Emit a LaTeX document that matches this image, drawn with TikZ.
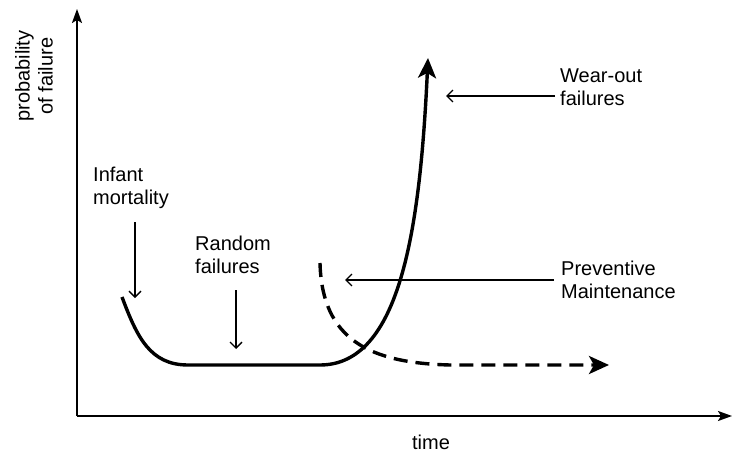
\documentclass[tikz,border=0pt]{standalone}
\usepackage{fontspec}
\setmainfont{Liberation Sans}
\usetikzlibrary{arrows.meta}
\begin{document}
\begin{tikzpicture}[x=1pt,y=-1pt,
  lbl/.style={inner sep=0pt,align=left,font=\fontsize{20}{23}\selectfont},
  axis/.style={line width=1.8pt,-{Stealth[length=14pt,width=10pt,inset=3pt]}},
  curve/.style={line width=3.4pt,-{Stealth[length=20pt,width=18pt,inset=5pt]}},
  pointer/.style={line width=1.4pt,-{Straight Barb[length=6pt,width=12pt]}}]
\useasboundingbox (0,0) rectangle (732,452);
% axes
\coordinate (O) at (77,416);
\coordinate (ytop) at (77,9);
\coordinate (xend) at (732,416);
\draw[axis] (O) -- (ytop);
\draw[axis] (O) -- (xend);
\node[lbl,align=center,rotate=90] (ylab) at (34,76) {probability\\of failure};
\node[lbl,anchor=base] (xlab) at (431,449) {time};
% bathtub curve
\coordinate (c0) at (122,297);
\coordinate (c1) at (188,365);
\coordinate (c2) at (320,365);
\coordinate (c3) at (428,58);
\draw[curve] (c0) .. controls (137,337) and (150,365) .. (c1) -- (c2)
  .. controls (400,365) and (420,230) .. (c3);
% preventive maintenance curve
\coordinate (d0) at (320,263);
\coordinate (d1) at (450,365);
\coordinate (d2) at (609,365);
\draw[curve,dash pattern=on 14pt off 8pt] (d0) .. controls (322,340) and (370,363) .. (d1) -- (d2);
% labels
\node[lbl,anchor=north west] (infant) at (93,167) {Infant\\mortality};
\node[lbl,anchor=north west] (random) at (195,236) {Random\\failures};
\node[lbl,anchor=north west] (wear) at (560,69) {Wear-out\\failures};
\node[lbl,anchor=north west] (prev) at (561,261) {Preventive\\Maintenance};
% pointers
\coordinate (pi0) at (135,222);
\coordinate (pi1) at (135,298);
\coordinate (pr0) at (236,290);
\coordinate (pr1) at (236,349);
\coordinate (pw0) at (555,96);
\coordinate (pw1) at (446,96);
\coordinate (pp0) at (554,280);
\coordinate (pp1) at (345,280);
\draw[pointer] (pi0) -- (pi1);
\draw[pointer] (pr0) -- (pr1);
\draw[pointer] (pw0) -- (pw1);
\draw[pointer] (pp0) -- (pp1);
\end{tikzpicture}
\end{document}
